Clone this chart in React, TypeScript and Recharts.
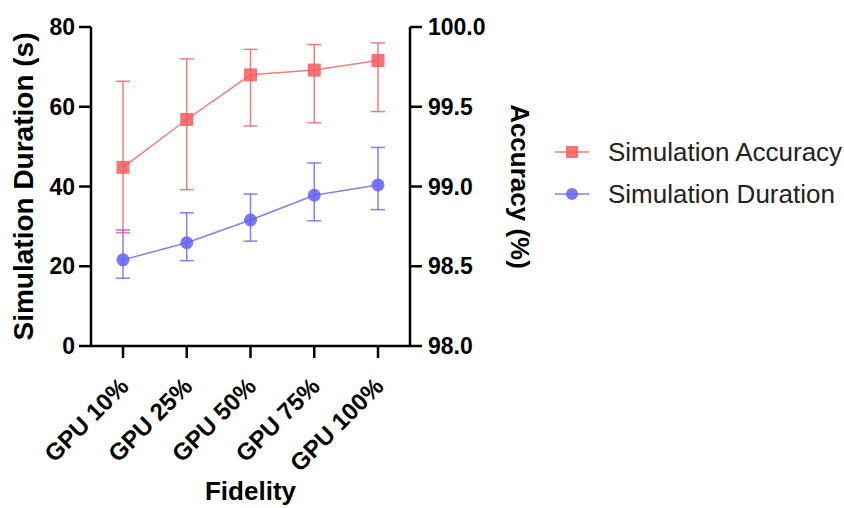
import { CartesianGrid, ErrorBar, Legend, Line, LineChart, XAxis, YAxis } from 'recharts';

const categories = ['GPU 10%', 'GPU 25%', 'GPU 50%', 'GPU 75%', 'GPU 100%'];

// accuracy (%) on the right axis
const accuracy = [99.12, 99.42, 99.7, 99.73, 99.79];
const accuracyLow = [98.71, 98.98, 99.38, 99.4, 99.47];
const accuracyHigh = [99.66, 99.8, 99.86, 99.89, 99.9];

// duration (s) on the left axis
const duration = [21.6, 25.9, 31.6, 37.8, 40.4];
const durationLow = [17.0, 21.4, 26.3, 31.4, 34.2];
const durationHigh = [29.1, 33.4, 38.1, 45.9, 49.8];

const leftTicks = [0, 20, 40, 60, 80];
const rightTicks = [98, 98.5, 99, 99.5, 100];

const RED = '#f45c5c';
const BLUE = '#6262f6';

const data = categories.map((name, i) => ({
  name,
  accuracy: accuracy[i],
  accErr: [accuracy[i] - accuracyLow[i], accuracyHigh[i] - accuracy[i]],
  duration: duration[i],
  durErr: [duration[i] - durationLow[i], durationHigh[i] - duration[i]],
}));

const FONT = 'Liberation Sans, Arial, sans-serif';
const axisStroke = { stroke: '#000', strokeWidth: 2.5 };
const tickStyle = { fontFamily: FONT, fontSize: 23, fontWeight: 700, fill: '#000' };

const SquareDot = (props: any) => {
  const { cx, cy } = props;
  if (cx == null || cy == null) return null;
  return <rect x={cx - 6.5} y={cy - 6.5} width={13} height={13} fill={RED} fillOpacity={0.85} />;
};

const CircleDot = (props: any) => {
  const { cx, cy } = props;
  if (cx == null || cy == null) return null;
  return <circle cx={cx} cy={cy} r={6.5} fill={BLUE} fillOpacity={0.85} />;
};

const XTick = (props: any) => {
  const { x, y, payload } = props;
  return (
    <text
      x={x + 7}
      y={y + 28}
      transform={`rotate(-45, ${x + 7}, ${y + 28})`}
      textAnchor="end"
      style={{ ...tickStyle, fontSize: 24 }}
    >
      {payload.value}
    </text>
  );
};

const LegendContent = () => {
  const items = [
    { label: 'Simulation Accuracy', color: RED, shape: 'square' },
    { label: 'Simulation Duration', color: BLUE, shape: 'circle' },
  ];
  return (
    <div>
      {items.map((it) => (
        <div key={it.label} style={{ display: 'flex', alignItems: 'center', height: 42 }}>
          <svg width={50} height={20} style={{ marginRight: 3 }}>
            <line x1={0} y1={10} x2={34} y2={10} stroke={it.color} strokeOpacity={0.8} strokeWidth={1.5} />
            {it.shape === 'square' ? (
              <rect x={11} y={4} width={12} height={12} fill={it.color} fillOpacity={0.85} />
            ) : (
              <circle cx={17} cy={10} r={6} fill={it.color} fillOpacity={0.85} />
            )}
          </svg>
          <span style={{ fontFamily: FONT, fontSize: 26, color: '#222', whiteSpace: 'nowrap' }}>{it.label}</span>
        </div>
      ))}
    </div>
  );
};

export default function App() {
  return (
    <div style={{ position: 'absolute', left: 0, top: 0, width: 844, height: 508, background: '#fff' }}>
      <LineChart width={844} height={508} data={data} margin={{ top: 27, right: 304, bottom: 0, left: 0 }}>
        <CartesianGrid stroke="none" />
        <XAxis
          dataKey="name"
          height={162}
          padding={{ left: 32, right: 32 }}
          axisLine={axisStroke}
          tickLine={axisStroke}
          tickSize={12}
          tick={<XTick />}
          interval={0}
          label={{
            content: (p: any) => {
              const vb = p.viewBox;
              return (
                <text
                  x={vb.x + vb.width / 2}
                  y={500}
                  textAnchor="middle"
                  style={{ fontFamily: FONT, fontSize: 26, fontWeight: 700, fill: '#000' }}
                >
                  Fidelity
                </text>
              );
            },
          }}
        />
        <YAxis
          yAxisId="left"
          width={91}
          domain={[0, 80]}
          ticks={leftTicks}
          axisLine={axisStroke}
          tickLine={axisStroke}
          tickSize={12}
          tickMargin={4}
          tick={tickStyle}
          label={{
            content: (p: any) => {
              const vb = p.viewBox;
              const cx = 23;
              const cy = vb.y + vb.height / 2;
              return (
                <text
                  x={cx}
                  y={cy}
                  transform={`rotate(-90, ${cx}, ${cy})`}
                  textAnchor="middle"
                  dominantBaseline="central"
                  style={{ fontFamily: FONT, fontSize: 28, fontWeight: 700, fill: '#000' }}
                >
                  Simulation Duration (s)
                </text>
              );
            },
          }}
        />
        <YAxis
          yAxisId="right"
          orientation="right"
          width={130}
          domain={[98, 100]}
          ticks={rightTicks}
          tickFormatter={(v: number) => v.toFixed(1)}
          axisLine={axisStroke}
          tickLine={axisStroke}
          tickSize={12}
          tickMargin={6}
          tick={tickStyle}
          label={{
            content: (p: any) => {
              const vb = p.viewBox;
              const cx = 520;
              const cy = vb.y + vb.height / 2;
              return (
                <text
                  x={cx}
                  y={cy}
                  transform={`rotate(90, ${cx}, ${cy})`}
                  textAnchor="middle"
                  dominantBaseline="central"
                  style={{ fontFamily: FONT, fontSize: 26, fontWeight: 700, fill: '#000' }}
                >
                  Accuracy (%)
                </text>
              );
            },
          }}
        />
        <Legend
          layout="vertical"
          align="center"
          verticalAlign="middle"
          content={<LegendContent />}
          wrapperStyle={{ left: 555, top: 131, width: 290 }}
        />
        <Line
          yAxisId="left"
          dataKey="duration"
          stroke={BLUE}
          strokeOpacity={0.8}
          strokeWidth={1.5}
          dot={<CircleDot />}
          activeDot={false}
          isAnimationActive={false}
        >
          <ErrorBar dataKey="durErr" width={7} stroke={BLUE} strokeOpacity={0.8} strokeWidth={1.5} />
        </Line>
        <Line
          yAxisId="right"
          dataKey="accuracy"
          stroke={RED}
          strokeOpacity={0.8}
          strokeWidth={1.5}
          dot={<SquareDot />}
          activeDot={false}
          isAnimationActive={false}
        >
          <ErrorBar dataKey="accErr" width={7} stroke={RED} strokeOpacity={0.8} strokeWidth={1.5} />
        </Line>
      </LineChart>
    </div>
  );
}
